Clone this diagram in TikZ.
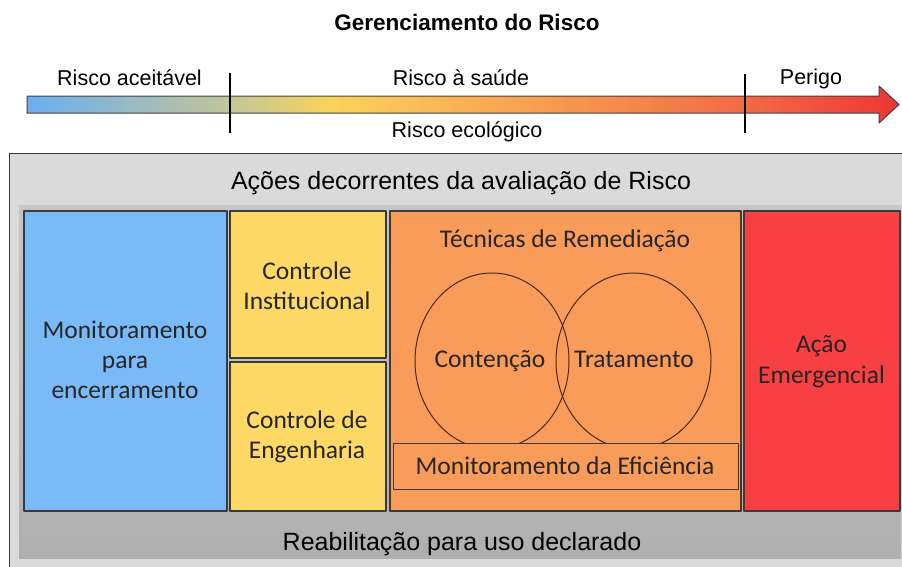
\documentclass[tikz,border=0pt]{standalone}
\usepackage{fontspec}
\setmainfont{Liberation Sans}
\newfontfamily\calib{Carlito}
\usetikzlibrary{positioning}

\definecolor{barblue}{HTML}{6AAFF2}
\definecolor{bargray}{HTML}{C2C59A}
\definecolor{baryellow}{HTML}{F9D45A}
\definecolor{barorange}{HTML}{F8A350}
\definecolor{barredor}{HTML}{F36A45}
\definecolor{barred}{HTML}{EE3636}
\definecolor{framegray}{HTML}{DADADA}
\definecolor{bandtop}{HTML}{C6C6C6}
\definecolor{bandbot}{HTML}{AFAFAF}
\definecolor{boxline}{HTML}{3A3A3A}
\definecolor{monblue}{HTML}{7BBAF9}
\definecolor{ctrlyellow}{HTML}{FFD966}
\definecolor{remorange}{HTML}{F99B59}
\definecolor{emred}{HTML}{F83F42}
\definecolor{ringline}{HTML}{4A2A1A}

\pgfdeclarehorizontalshading{riskbar}{100bp}{color(0bp)=(barblue); color(25bp)=(barblue); color(36.6bp)=(bargray); color(42.4bp)=(baryellow); color(53.3bp)=(barorange); color(66.2bp)=(barredor); color(75bp)=(barred); color(100bp)=(barred)}

\begin{document}
\begin{tikzpicture}[x=1pt,y=-1pt,line cap=round,line join=round,
  box/.style={draw=boxline,line width=1.1pt},
  arial/.style={font=\fontsize{25}{30}\selectfont,anchor=base},
  riskl/.style={font=\fontsize{21.5}{25}\selectfont,anchor=base},
  calab/.style={font=\calib\fontsize{25.5}{30}\selectfont,align=center,anchor=base,text=black!85}]

\useasboundingbox (0,0) rectangle (902,566);

% risk scale
\node[font=\bfseries\fontsize{22.5}{26}\selectfont,anchor=base] (title) at (467,30) {Gerenciamento do Risco};

\shadedraw[shading=riskbar,draw=black!75,line width=1pt] (27,96) -- (879,96) -- (879,86) -- (899,104.5) -- (879,123) -- (879,113) -- (27,113) -- cycle;
\coordinate (m1top) at (230,73);
\coordinate (m1bot) at (230,133);
\coordinate (m2top) at (745,74);
\coordinate (m2bot) at (745,133);
\draw[line width=2.2pt,line cap=butt] (m1top) -- (m1bot);
\draw[line width=2.2pt,line cap=butt] (m2top) -- (m2bot);

\node[riskl] (aceit) at (129.5,85) {Risco aceitável};
\node[riskl] (saude) at (461,85) {Risco à saúde};
\node[riskl] (perigo) at (811,84) {Perigo};
\node[riskl] (ecolog) at (467,137) {Risco ecológico};

% actions frame
\draw[draw=boxline,fill=framegray,line width=1pt] (9,153) rectangle (912,580);
\shade[top color=bandtop,bottom color=bandbot] (19,205) rectangle (901,558);

\node[arial] (acoes) at (461,189) {Ações decorrentes da avaliação de Risco};
\node[arial] (reab) at (462,550) {Reabilitação para uso declarado};

% boxes
\draw[box,fill=monblue] (24,211) rectangle (227,511);
\draw[box,fill=ctrlyellow] (230,211) rectangle (386,358);
\draw[box,fill=ctrlyellow] (230,362) rectangle (386,511);
\draw[box,fill=remorange] (390,211) rectangle (741,511);
\draw[box,fill=emred] (744,211) rectangle (900,511);

\draw[ringline,line width=1pt] (492,361) ellipse (77 and 88);
\draw[ringline,line width=1pt] (633.5,361) ellipse (77.5 and 88);
\draw[box,fill=remorange,line width=1pt] (393,443) rectangle (738,489);

\node[calab] (monit) at (125,398) {Monitoramento\\para\\encerramento};
\node[calab] (instit) at (307,309) {Controle\\Institucional};
\node[calab] (engen) at (307,458) {Controle de\\Engenharia};
\node[calab] (tecn) at (565,247) {Técnicas de Remediação};
\node[calab] (conten) at (490,367) {Contenção};
\node[calab] (tratam) at (634,367) {Tratamento};
\node[calab] (efic) at (565,474) {Monitoramento da Eficiência};
\node[calab,font=\calib\fontsize{25.5}{31}\selectfont] (emerg) at (821.5,383) {Ação\\Emergencial};
\end{tikzpicture}
\end{document}
